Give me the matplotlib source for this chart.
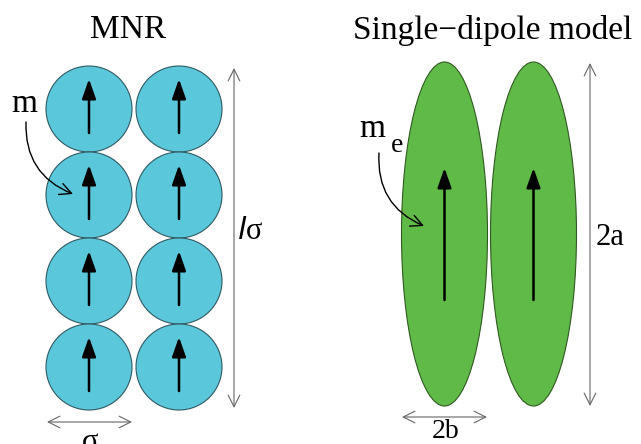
import matplotlib.pyplot as plt
from matplotlib.patches import Circle, Ellipse, FancyArrowPatch

plt.rcParams['font.family'] = ['Liberation Serif', 'DejaVu Serif']

# left panel: 2 x 4 spheres (pixel coordinates of the picture)
sphere_cols = [89, 179]
sphere_rows = [109, 195, 281, 367]
sphere_r = 43

# right panel: two elongated ellipsoids
ell_x = [444.5, 533.5]
ell_y = 234
ell_w, ell_h = 86, 344

titles = ["MNR", "Single\u2212dipole model"]
title_x = [128, 493]

fig = plt.figure(figsize=(6.41, 4.44), dpi=100)
ax = fig.add_axes([0, 0, 1, 1])
ax.set_xlim(0, 641)
ax.set_ylim(444, 0)
ax.axis('off')

def arrow(p0, p1, style, color='black', lw=1.0, ms=10, conn='arc3', z=3):
    a = FancyArrowPatch(p0, p1, arrowstyle=style, color=color, lw=lw,
                        mutation_scale=ms, shrinkA=0, shrinkB=0,
                        connectionstyle=conn, zorder=z)
    ax.add_patch(a)

dipole = '-|>,head_length=0.85,head_width=0.3'

# spheres with dipoles
for cx in sphere_cols:
    for cy in sphere_rows:
        ax.add_patch(Circle((cx, cy), sphere_r, facecolor='#5bc7db',
                            edgecolor='#2f5a62', lw=0.8, zorder=1))
        arrow((cx, cy + 24), (cx, cy - 30), dipole, lw=1.8, ms=14)

# ellipsoids
for ex in ell_x:
    ax.add_patch(Ellipse((ex, ell_y), ell_w, ell_h, facecolor='#60ba47',
                         edgecolor='#2f5a20', lw=0.8, zorder=1))
    arrow((ex, 300), (ex, 168), dipole, lw=1.8, ms=14)

# titles
for t, x in zip(titles, title_x):
    ax.text(x, 30, t, fontsize=24, ha='center', va='center')

# dimension arrows
dim = '<->,head_length=0.7,head_width=0.35'
gray = '#666666'
arrow((234, 68), (234, 408), dim, color=gray, lw=0.8, ms=12)
arrow((47, 422), (132, 422), dim, color=gray, lw=0.8, ms=12)
arrow((590, 63), (590, 406), dim, color=gray, lw=0.8, ms=12)
arrow((402, 417), (487, 417), dim, color=gray, lw=0.8, ms=12)

ax.text(250, 231, r'$\mathit{l}$' + '\u03c3', fontsize=22, ha='center', va='center')
ax.text(90, 442, '\u03c3', fontsize=22, ha='center', va='center')
ax.text(610, 237, '2a', fontsize=22, ha='center', va='center')
ax.text(446, 438, '2b', fontsize=20, ha='center', va='baseline')

# moment labels
ax.text(24, 104, 'm', fontsize=24, ha='center', va='center')
arrow((26, 122), (73, 194), '->,head_length=0.7,head_width=0.35',
      lw=1.0, ms=12, conn='arc3,rad=0.35')
ax.text(372, 129, 'm', fontsize=24, ha='center', va='center')
ax.text(397, 145, 'e', fontsize=20, ha='center', va='center')
arrow((379, 153), (424, 226), '->,head_length=0.7,head_width=0.35',
      lw=1.0, ms=12, conn='arc3,rad=0.35')

fig.savefig('out.png', dpi=100)
